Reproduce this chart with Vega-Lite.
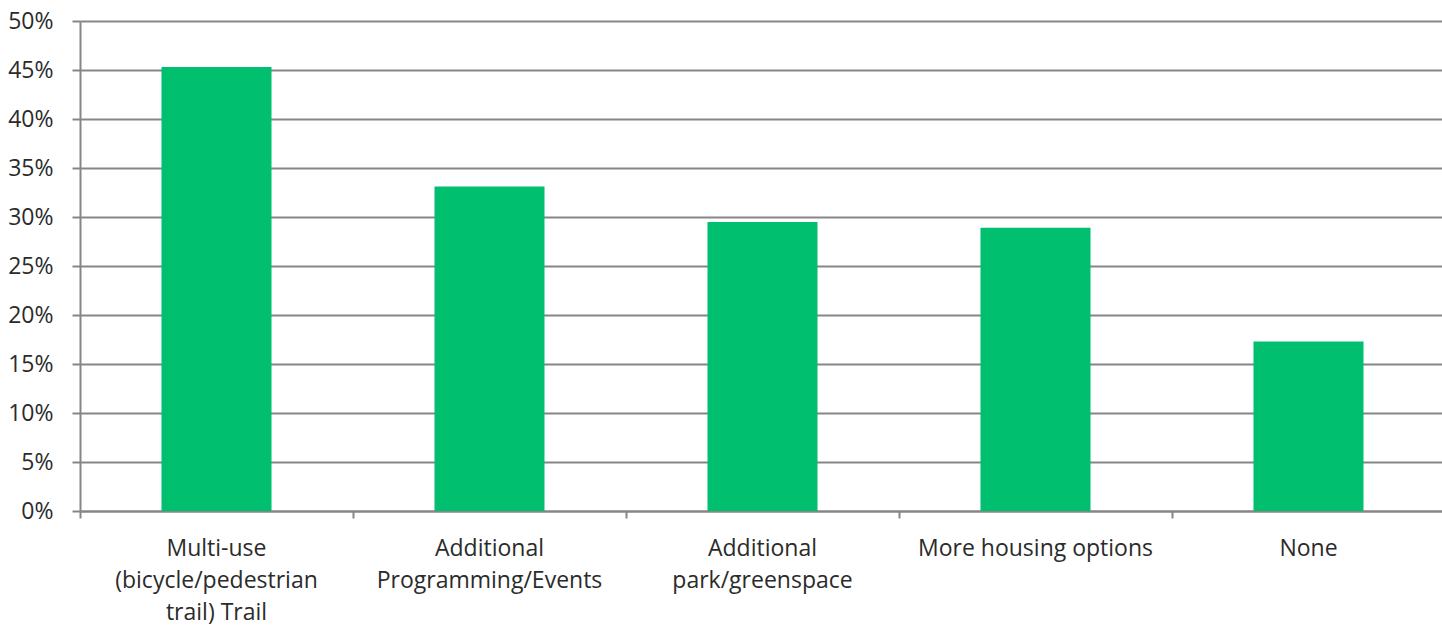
{
  "$schema": "https://vega.github.io/schema/vega-lite/v6.json",
  "autosize": {"type": "none"},
  "width": 1365,
  "height": 490,
  "padding": {"left": 80, "top": 21, "right": 0, "bottom": 117},
  "background": "white",
  "data": {
    "values": [
      {"category": "Multi-use (bicycle/pedestrian trail) Trail", "share": 0.453},
      {"category": "Additional Programming/Events", "share": 0.331},
      {"category": "Additional park/greenspace", "share": 0.295},
      {"category": "More housing options", "share": 0.289},
      {"category": "None", "share": 0.173}
    ]
  },
  "config": {
    "view": {"stroke": null},
    "font": "Open Sans"
  },
  "mark": {"type": "bar", "color": "#00BF6F", "width": {"band": 0.403}},
  "encoding": {
    "x": {
      "field": "category",
      "type": "nominal",
      "sort": null,
      "scale": {"paddingInner": 0, "paddingOuter": 0},
      "axis": {
        "title": null,
        "labelAngle": 0,
        "labelFontSize": 23,
        "labelColor": "#2b2b2b",
        "labelFont": "Open Sans",
        "labelLineHeight": 32,
        "labelPadding": 19,
        "labelLimit": 400,
        "labelExpr": "datum.value == 'Multi-use (bicycle/pedestrian trail) Trail' ? ['Multi-use', '(bicycle/pedestrian', 'trail) Trail'] : datum.value == 'Additional Programming/Events' ? ['Additional', 'Programming/Events'] : datum.value == 'Additional park/greenspace' ? ['Additional', 'park/greenspace'] : datum.value",
        "bandPosition": 0,
        "ticks": true,
        "tickSize": 7,
        "tickColor": "#868686",
        "tickWidth": 2,
        "domainColor": "#868686",
        "domainWidth": 2,
        "grid": false
      }
    },
    "y": {
      "field": "share",
      "type": "quantitative",
      "scale": {"domain": [0, 0.5], "nice": false},
      "axis": {
        "title": null,
        "format": ".0%",
        "values": [0, 0.05, 0.1, 0.15, 0.2, 0.25, 0.3, 0.35, 0.4, 0.45, 0.5],
        "labelFontSize": 23,
        "labelColor": "#2b2b2b",
        "labelFont": "Open Sans",
        "labelPadding": 19,
        "tickSize": 8,
        "tickColor": "#868686",
        "tickWidth": 2,
        "domainColor": "#868686",
        "domainWidth": 2,
        "grid": true,
        "gridColor": "#868686",
        "gridWidth": 2
      }
    }
  }
}
